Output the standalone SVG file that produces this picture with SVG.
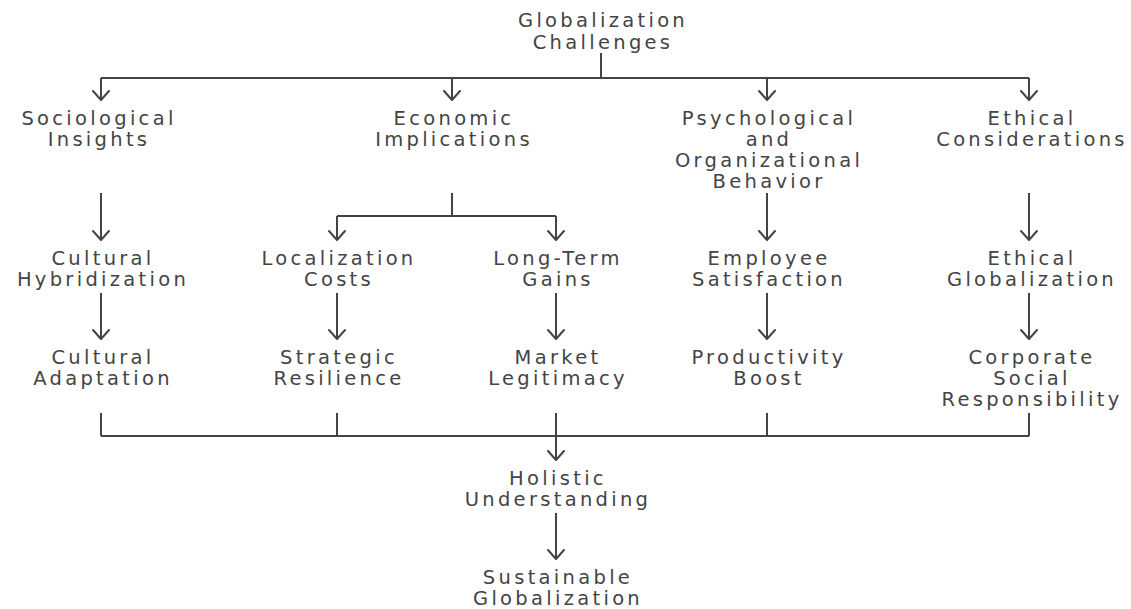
<svg xmlns="http://www.w3.org/2000/svg" width="1131" height="609" viewBox="0 0 1131 609">
<defs>
<marker id="arr" viewBox="-10 -10 20 12" refX="0" refY="0" markerWidth="20" markerHeight="12" markerUnits="userSpaceOnUse" orient="auto-start-reverse" overflow="visible">
<path d="M-8,-9 L0,0 L8,-9" fill="none" stroke="#444" stroke-width="2" stroke-linecap="round" stroke-linejoin="round" transform="rotate(-90)"/>
</marker>
<style>
text{font-family:"DejaVu Sans","Liberation Sans",sans-serif;font-size:19.5px;letter-spacing:3.3px;fill:#444;text-anchor:middle}
.c path{fill:none;stroke:#444;stroke-width:2}
.a{marker-end:url(#arr)}
</style>
</defs>
<rect width="1131" height="609" fill="#fff"/>
<g class="c" id="connectors">
<path d="M601,53 V78 M101,78 H1029"/>
<path class="a" d="M101,78 V100"/>
<path class="a" d="M452,78 V100"/>
<path class="a" d="M767,78 V100"/>
<path class="a" d="M1029,78 V100"/>
<path class="a" d="M101,193 V240"/>
<path d="M452,193 V216 M337,216 H556"/>
<path class="a" d="M337,216 V240"/>
<path class="a" d="M556,216 V240"/>
<path class="a" d="M767,193 V240"/>
<path class="a" d="M1029,193 V240"/>
<path class="a" d="M101,293 V339"/>
<path class="a" d="M337,293 V339"/>
<path class="a" d="M556,293 V339"/>
<path class="a" d="M767,293 V339"/>
<path class="a" d="M1029,293 V339"/>
<path d="M101,413 V436 M337,413 V436 M767,413 V436 M1029,413 V436 M101,436 H1029"/>
<path class="a" d="M556,413 V460"/>
<path class="a" d="M556,513 V559"/>
</g>
<g id="n-root"><text x="603" y="27">Globalization</text><text x="603" y="49">Challenges</text></g>
<g id="n-socio"><text x="99" y="125">Sociological</text><text x="99" y="146">Insights</text></g>
<g id="n-econ"><text x="454" y="125">Economic</text><text x="454" y="146">Implications</text></g>
<g id="n-psych"><text x="769" y="125">Psychological</text><text x="769" y="146">and</text><text x="769" y="167">Organizational</text><text x="769" y="188">Behavior</text></g>
<g id="n-ethic"><text x="1032" y="125">Ethical</text><text x="1032" y="146">Considerations</text></g>
<g id="n-hybrid"><text x="103" y="265">Cultural</text><text x="103" y="286">Hybridization</text></g>
<g id="n-local"><text x="339" y="265">Localization</text><text x="339" y="286">Costs</text></g>
<g id="n-long"><text x="558" y="265">Long-Term</text><text x="558" y="286">Gains</text></g>
<g id="n-employee"><text x="769" y="265">Employee</text><text x="769" y="286">Satisfaction</text></g>
<g id="n-ethglob"><text x="1032" y="265">Ethical</text><text x="1032" y="286">Globalization</text></g>
<g id="n-adapt"><text x="103" y="364">Cultural</text><text x="103" y="385">Adaptation</text></g>
<g id="n-strat"><text x="339" y="364">Strategic</text><text x="339" y="385">Resilience</text></g>
<g id="n-market"><text x="558" y="364">Market</text><text x="558" y="385">Legitimacy</text></g>
<g id="n-prod"><text x="769" y="364">Productivity</text><text x="769" y="385">Boost</text></g>
<g id="n-csr"><text x="1032" y="364">Corporate</text><text x="1032" y="385">Social</text><text x="1032" y="406">Responsibility</text></g>
<g id="n-holistic"><text x="558" y="485">Holistic</text><text x="558" y="506">Understanding</text></g>
<g id="n-sustain"><text x="558" y="584">Sustainable</text><text x="558" y="605">Globalization</text></g>
</svg>
